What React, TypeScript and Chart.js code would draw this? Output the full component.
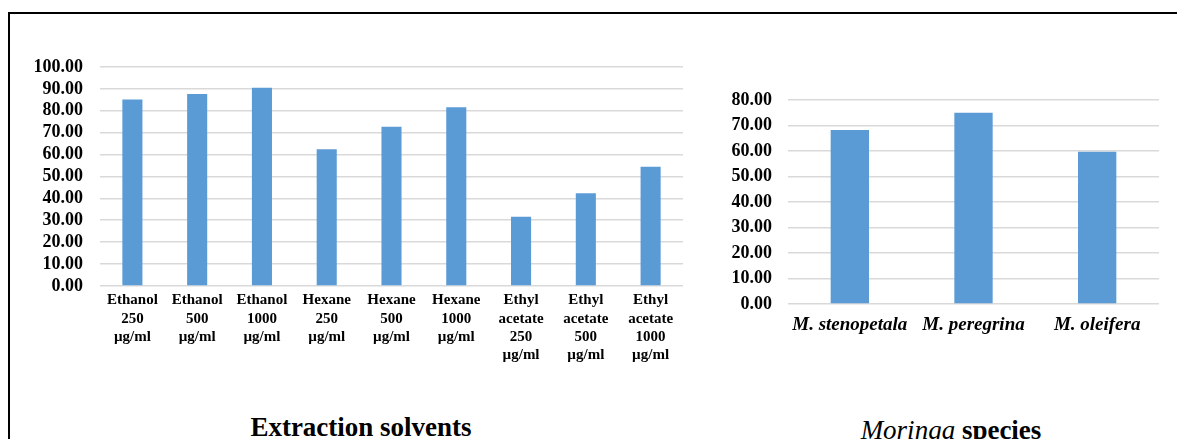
import React, { useEffect, useRef } from "react";
import { Chart, registerables } from "chart.js";

Chart.register(...registerables);

// Left panel: activity by extraction solvent and concentration
const solventLabels: string[][] = [
  ["Ethanol", "250", "µg/ml"],
  ["Ethanol", "500", "µg/ml"],
  ["Ethanol", "1000", "µg/ml"],
  ["Hexane", "250", "µg/ml"],
  ["Hexane", "500", "µg/ml"],
  ["Hexane", "1000", "µg/ml"],
  ["Ethyl", "acetate", "250", "µg/ml"],
  ["Ethyl", "acetate", "500", "µg/ml"],
  ["Ethyl", "acetate", "1000", "µg/ml"],
];
const solventValues: number[] = [85.2, 87.7, 90.5, 62.5, 72.7, 81.6, 31.6, 42.3, 54.4];
const solventMax = 100;

// Right panel: activity by Moringa species
const speciesLabels: string[] = ["M. stenopetala", "M. peregrina", "M. oleifera"];
const speciesValues: number[] = [68.2, 75.0, 59.7];
const speciesMax = 80;

const tickStep = 10;
const BAR = "#5b9bd5";
const GRID = "#d9d9d9";
const SERIF = '"Liberation Serif", "Times New Roman", Times, serif';

type PanelOpts = {
  labels: (string | string[])[];
  values: number[];
  max: number;
  yWidth: number;
  xHeight: number;
  padTop: number;
  padRight: number;
  yPad: number;
  xPad: number;
  xFont: any;
};

function makeConfig(o: PanelOpts): any {
  return {
    type: "bar",
    data: {
      labels: o.labels,
      datasets: [
        {
          data: o.values,
          backgroundColor: BAR,
          borderWidth: 0,
          barPercentage: 0.31,
          categoryPercentage: 1,
        },
      ],
    },
    options: {
      responsive: false,
      animation: false,
      events: [],
      layout: { padding: { top: o.padTop, right: o.padRight, left: 0, bottom: 0 } },
      plugins: { legend: { display: false }, tooltip: { enabled: false }, title: { display: false } },
      scales: {
        x: {
          grid: { display: false, drawTicks: false },
          border: { display: false },
          ticks: {
            autoSkip: false,
            maxRotation: 0,
            minRotation: 0,
            padding: o.xPad,
            color: "#000",
            font: o.xFont,
          },
          afterFit: (s: any) => {
            s.height = o.xHeight;
          },
        },
        y: {
          min: 0,
          max: o.max,
          grid: { color: GRID, lineWidth: 1.6, drawTicks: false },
          border: { display: false },
          ticks: {
            stepSize: tickStep,
            autoSkip: false,
            padding: o.yPad,
            color: "#000",
            font: { family: SERIF, size: 18, weight: "bold", lineHeight: 1 },
            callback: (v: any) => Number(v).toFixed(2),
          },
          afterFit: (s: any) => {
            s.width = o.yWidth;
          },
        },
      },
    },
  };
}

function Panel(props: { opts: PanelOpts; left: number; top: number; width: number; height: number }) {
  const ref = useRef<HTMLCanvasElement | null>(null);
  useEffect(() => {
    if (!ref.current) return;
    const chart = new Chart(ref.current, makeConfig(props.opts));
    return () => chart.destroy();
  }, []);
  return (
    <canvas
      ref={ref}
      width={props.width}
      height={props.height}
      style={{
        position: "absolute",
        left: props.left,
        top: props.top,
        width: props.width,
        height: props.height,
      }}
    />
  );
}

export default function App() {
  const titleStyle: React.CSSProperties = {
    position: "absolute",
    width: 400,
    textAlign: "center",
    fontFamily: SERIF,
    fontSize: 27,
    lineHeight: "27px",
    color: "#000",
    whiteSpace: "nowrap",
  };
  return (
    <div style={{ position: "fixed", left: 0, top: 0, right: 0, bottom: 0, overflow: "hidden", background: "#fff" }}>
      <div
        style={{
          position: "absolute",
          left: 8,
          top: 12,
          right: -10,
          bottom: -10,
          borderTop: "2px solid #000",
          borderLeft: "2px solid #000",
        }}
      />
      <Panel
        left={20}
        top={40}
        width={680}
        height={360}
        opts={{
          labels: solventLabels,
          values: solventValues,
          max: solventMax,
          yWidth: 80,
          xHeight: 114,
          padTop: 27,
          padRight: 17,
          yPad: 17,
          xPad: 5,
          xFont: { family: SERIF, size: 15, weight: "bold", lineHeight: 1.23 },
        }}
      />
      <Panel
        left={700}
        top={40}
        width={477}
        height={360}
        opts={{
          labels: speciesLabels,
          values: speciesValues,
          max: speciesMax,
          yWidth: 88,
          xHeight: 96,
          padTop: 60,
          padRight: 18,
          yPad: 16,
          xPad: 10,
          xFont: { family: SERIF, size: 19, weight: "bold", style: "italic", lineHeight: 1.2 },
        }}
      />
      <div style={{ ...titleStyle, left: 161, top: 414, fontWeight: "bold" }}>Extraction solvents</div>
      <div style={{ ...titleStyle, left: 751, top: 417 }}>
        <i style={{ fontFamily: SERIF }}>Moringa</i> <b style={{ fontFamily: SERIF }}>species</b>
      </div>
    </div>
  );
}
